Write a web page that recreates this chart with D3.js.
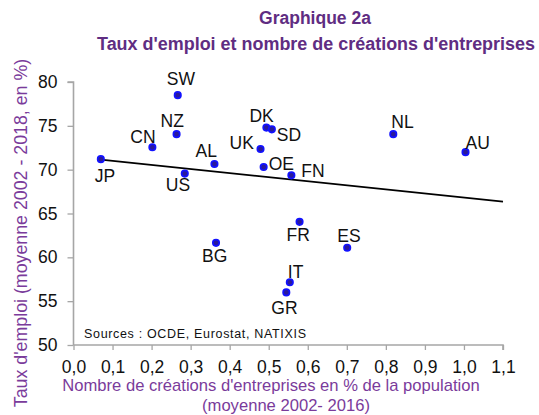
<!DOCTYPE html>
<html>
<head>
<meta charset="utf-8">
<script src="https://cdn.jsdelivr.net/npm/d3@7"></script>
<style>
  body { margin: 0; background: #fff; }
  text { font-family: "Liberation Sans", Arial, sans-serif; }
</style>
</head>
<body>
<svg id="chart" width="539" height="415"></svg>
<script>
// data
let countries = ["JP", "SW", "NZ", "CN", "US", "AL", "BG", "UK", "DK", "SD", "OE", "FN", "NL", "AU", "FR", "ES", "IT", "GR"];
let creations = [0.07, 0.267, 0.264, 0.202, 0.285, 0.361, 0.365, 0.479, 0.494, 0.508, 0.487, 0.558, 0.819, 1.004, 0.579, 0.701, 0.554, 0.545];
let emploi = [71.2, 78.5, 74.05, 72.55, 69.55, 70.65, 61.65, 72.35, 74.8, 74.6, 70.3, 69.35, 74.05, 72.0, 64.05, 61.1, 57.15, 56.0];
let trendX = [0.07, 1.1];
let trendY = [71.15, 66.35];
let xTicks = [0, 0.1, 0.2, 0.3, 0.4, 0.5, 0.6, 0.7, 0.8, 0.9, 1.0, 1.1];
let yTicks = [50, 55, 60, 65, 70, 75, 80];

// label placement (dx, dy from the dot)
let labelPos = {
  JP: [-6, 23], SW: [-11, -10], NZ: [-16, -7], CN: [-22, -4],
  US: [-19, 17], AL: [-19, -7], BG: [-14, 19], UK: [-31, 0],
  DK: [-17, -6], SD: [5, 12], OE: [5, 3], FN: [10, 2],
  NL: [-2, -6], AU: [0, -3], FR: [-13, 19], ES: [-10, -6],
  IT: [-2, -4], GR: [-15, 22]
};

let svg = d3.select("#chart");
let margin = { top: 82, right: 36, bottom: 70, left: 73.5 };
let width = 539, height = 415;

let x = d3.scaleLinear().domain([0, 1.1]).range([margin.left, width - margin.right]);
let y = d3.scaleLinear().domain([50, 80]).range([height - margin.bottom, margin.top]);

let fmt = d => d3.format(".1f")(d).replace(".", ",");

// axes
let xAxis = g => g.attr("transform", `translate(0,${y(50)})`)
  .call(d3.axisBottom(x).tickValues(xTicks).tickFormat(fmt).tickSize(5).tickPadding(11));
let yAxis = g => g.attr("transform", `translate(${x(0)},0)`)
  .call(d3.axisLeft(y).tickValues(yTicks).tickSize(6).tickPadding(10));

let gx = svg.append("g").call(xAxis);
let gy = svg.append("g").call(yAxis);
[gx, gy].forEach(g => {
  g.select(".domain").attr("stroke", "#a6a6a6").attr("stroke-width", 1.6);
  g.selectAll(".tick line").attr("stroke", "#a6a6a6").attr("stroke-width", 1.3);
  g.selectAll(".tick text").attr("fill", "#111").attr("font-size", 17.5)
    .attr("font-family", "Liberation Sans, Arial, sans-serif");
});
gx.select(".domain").attr("d", `M${x(0)},0H${x(1.1)}V5`);
gy.select(".domain").attr("d", `M-6,${y(80)}H0V${y(50)}`);

// trend line
svg.append("line")
  .attr("x1", x(trendX[0])).attr("y1", y(trendY[0]))
  .attr("x2", x(trendX[1])).attr("y2", y(trendY[1]))
  .attr("stroke", "#000").attr("stroke-width", 1.6);

// points
let pts = countries.map((c, i) => ({ name: c, x: creations[i], y: emploi[i] }));
svg.append("g").selectAll("circle").data(pts).join("circle")
  .attr("cx", d => x(d.x)).attr("cy", d => y(d.y)).attr("r", 3.2)
  .attr("fill", "#2a1a9a").attr("stroke", "#1212ff").attr("stroke-width", 1.7);

svg.append("g").selectAll("text").data(pts).join("text")
  .attr("x", d => x(d.x) + labelPos[d.name][0])
  .attr("y", d => y(d.y) + labelPos[d.name][1])
  .attr("font-size", 17.5).attr("fill", "#111")
  .text(d => d.name);

// titles
svg.append("text").attr("x", 315).attr("y", 24).attr("text-anchor", "middle")
  .attr("font-size", 17.5).attr("font-weight", "bold").attr("fill", "#5f2d82")
  .text("Graphique 2a");
svg.append("text").attr("x", 316).attr("y", 50).attr("text-anchor", "middle")
  .attr("font-size", 17.5).attr("font-weight", "bold").attr("fill", "#5f2d82")
  .attr("textLength", 438).attr("lengthAdjust", "spacingAndGlyphs")
  .text("Taux d'emploi et nombre de créations d'entreprises");

svg.append("text").attr("transform", "translate(27,233) rotate(-90)").attr("text-anchor", "middle")
  .attr("font-size", 17.8).attr("fill", "#7a3b9b")
  .text("Taux d'emploi (moyenne 2002 - 2018, en %)");

svg.append("text").attr("x", 271).attr("y", 391).attr("text-anchor", "middle")
  .attr("font-size", 16.6).attr("fill", "#7a3b9b")
  .text("Nombre de créations d'entreprises en % de la population");
svg.append("text").attr("x", 286).attr("y", 411).attr("text-anchor", "middle")
  .attr("font-size", 16.6).attr("fill", "#7a3b9b")
  .text("(moyenne 2002- 2016)");

svg.append("text").attr("x", 84).attr("y", 338)
  .attr("font-size", 12.5).attr("fill", "#111")
  .attr("textLength", 222).attr("lengthAdjust", "spacing")
  .text("Sources : OCDE, Eurostat, NATIXIS");
</script>
</body>
</html>
